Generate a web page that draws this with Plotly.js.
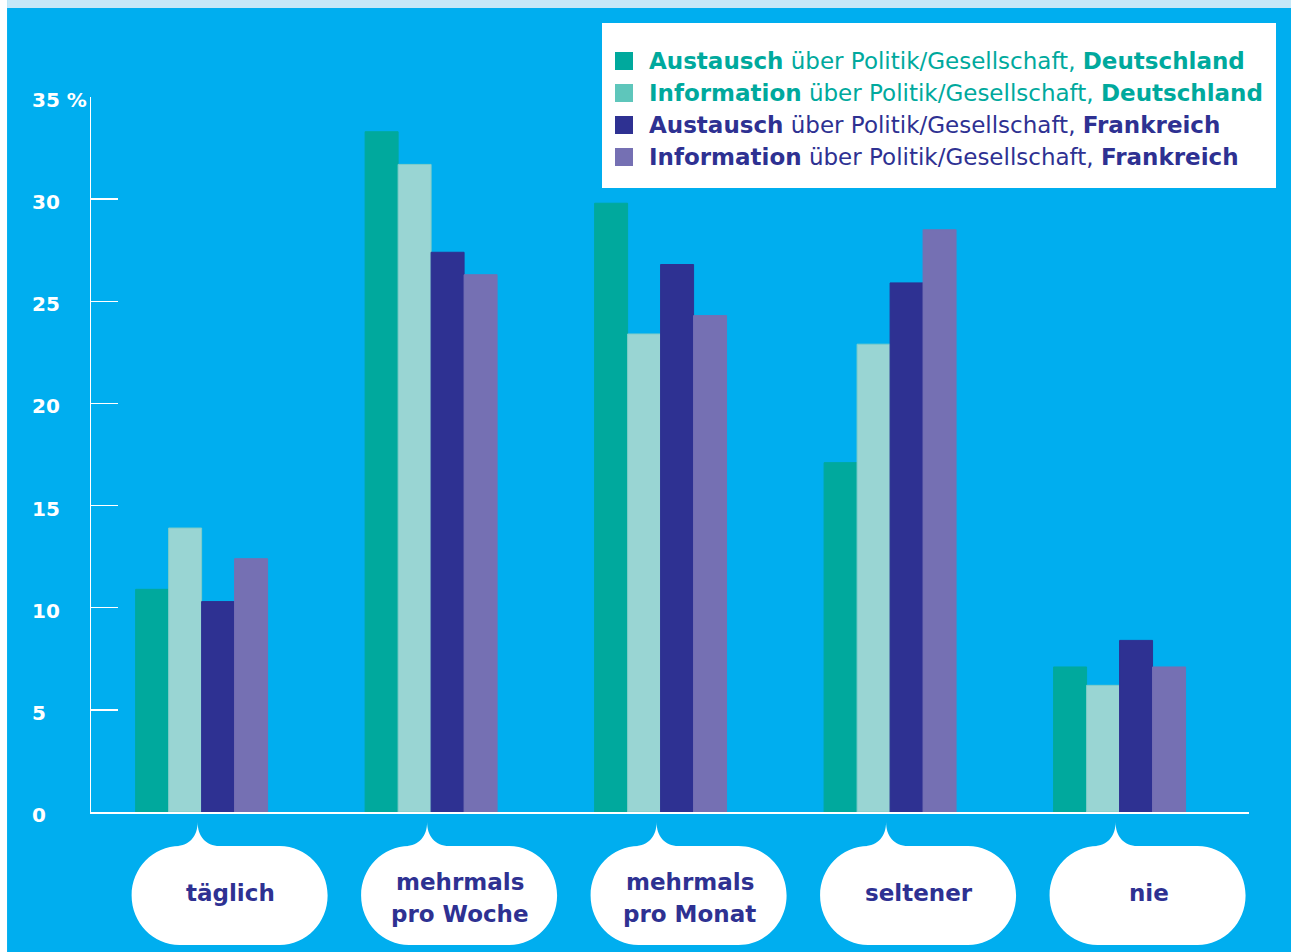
<!DOCTYPE html>
<html>
<head>
<meta charset="utf-8">
<script src="https://cdn.plot.ly/plotly-3.0.1.min.js"></script>
<style>
  html, body { margin: 0; padding: 0; background: #ffffff; }
  #chart { width: 1291px; height: 952px; }
</style>
</head>
<body>
<div id="chart"></div>
<script>
// ---- data ----
const categories = ["täglich", "mehrmals pro Woche", "mehrmals pro Monat", "seltener", "nie"];
const categoryLabelLines = [["täglich"], ["mehrmals", "pro Woche"], ["mehrmals", "pro Monat"], ["seltener"], ["nie"]];
const austauschDeutschland = [10.9, 33.3, 29.8, 17.1, 7.1];
const informationDeutschland = [13.9, 31.7, 23.4, 22.9, 6.2];
const austauschFrankreich = [10.3, 27.4, 26.8, 25.9, 8.4];
const informationFrankreich = [12.4, 26.3, 24.3, 28.5, 7.1];
const tickValues = [0, 5, 10, 15, 20, 25, 30, 35];
const tickLabels = ["0", "5", "10", "15", "20", "25", "30", "35 %"];
const seriesNames = [
  "Austausch über Politik/Gesellschaft, Deutschland",
  "Information über Politik/Gesellschaft, Deutschland",
  "Austausch über Politik/Gesellschaft, Frankreich",
  "Information über Politik/Gesellschaft, Frankreich"
];
const legendTexts = [
  "<b>Austausch</b> über Politik/Gesellschaft, <b>Deutschland</b>",
  "<b>Information</b> über Politik/Gesellschaft, <b>Deutschland</b>",
  "<b>Austausch</b> über Politik/Gesellschaft, <b>Frankreich</b>",
  "<b>Information</b> über Politik/Gesellschaft, <b>Frankreich</b>"
];

// ---- styles ----
const FONT = '"DejaVu Sans", Inter, sans-serif';
const BG = '#00aeef';
const colors = ['#00a99d', '#99d5d3', '#2e3192', '#7570b3'];
const lineColors = ['#00a99d', '#7fcdc8', '#2e3192', '#7570b3'];
const swatchColors = ['#00a99d', '#5ec6bb', '#2e3192', '#7570b3'];
const textColors = ['#00a99d', '#00a99d', '#2e3192', '#2e3192'];
const xRange = [-0.482, 4.564];

const values = [austauschDeutschland, informationDeutschland, austauschFrankreich, informationFrankreich];
const traces = values.map((v, i) => ({
  type: 'bar',
  x: categories,
  y: v,
  name: seriesNames[i],
  marker: { color: colors[i], line: { color: lineColors[i], width: 1 } },
  hoverinfo: 'x+y'
}));

function catToPaper(i) { return (i - xRange[0]) / (xRange[1] - xRange[0]); }

// speech-bubble path (pixel offsets relative to category centre on the x axis line)
function bubblePath() {
  const L = -70, R = 126, T = -34, B = -133, rx = 48, ry = 49.5, k = 0.5523;
  const mid = T - ry;
  const p = [];
  p.push(`M${L + rx - 4},${T}`);
  p.push(`C-12,${T} -4,-24 -4,-10`);
  p.push(`C-4,-24 4,${T} 18,${T}`);
  p.push(`L${R - rx},${T}`);
  p.push(`C${R - rx + k * rx},${T} ${R},${mid + k * ry} ${R},${mid}`);
  p.push(`C${R},${mid - k * ry} ${R - rx + k * rx},${B} ${R - rx},${B}`);
  p.push(`L${L + rx},${B}`);
  p.push(`C${L + rx - k * rx},${B} ${L},${mid - k * ry} ${L},${mid}`);
  p.push(`C${L},${mid + k * ry} ${L + rx - k * rx},${T} ${L + rx},${T}`);
  p.push('Z');
  return p.join(' ');
}

const shapes = [
  { type: 'rect', xref: 'paper', yref: 'paper', x0: -0.0786, x1: -0.0725, y0: -0.2, y1: 1.2,
    fillcolor: '#ffffff', line: { width: 0 }, layer: 'below' },
  { type: 'rect', xref: 'paper', yref: 'paper', x0: -0.0725, x1: 1.04, y0: 1.1245, y1: 1.2,
    fillcolor: '#c5e8f8', line: { width: 0 }, layer: 'below' },
  // legend box
  { type: 'rect', xref: 'paper', yref: 'paper', x0: 0.44128, x1: 1.02332, y0: 0.87273, y1: 1.1035,
    fillcolor: '#ffffff', line: { width: 0 }, layer: 'above' }
];
categories.forEach((c, i) => {
  shapes.push({
    type: 'path', xref: 'paper', yref: 'paper',
    xsizemode: 'pixel', ysizemode: 'pixel',
    xanchor: catToPaper(i), yanchor: 0,
    path: bubblePath(),
    fillcolor: '#ffffff', line: { width: 0 }, layer: 'above'
  });
});

const legendRowY = [1.05035, 1.00559, 0.96084, 0.91608];
const annotations = [];
seriesNames.forEach((n, i) => {
  shapes.push({
    type: 'rect', xref: 'paper', yref: 'paper',
    xsizemode: 'pixel', ysizemode: 'pixel',
    xanchor: 0.4525, yanchor: legendRowY[i],
    x0: 0, x1: 18, y0: -9, y1: 9,
    fillcolor: swatchColors[i], line: { width: 0 }, layer: 'above'
  });
  annotations.push({
    xref: 'paper', yref: 'paper', x: 0.48014, y: legendRowY[i],
    xanchor: 'left', yanchor: 'middle', showarrow: false,
    text: legendTexts[i],
    font: { family: FONT, size: 23, color: textColors[i] }
  });
});

tickValues.forEach((t, i) => {
  annotations.push({
    xref: 'paper', yref: 'y', x: -0.0527, y: t, xanchor: 'left', yanchor: 'middle',
    yshift: -3, showarrow: false, text: '<b>' + tickLabels[i] + '</b>',
    font: { family: FONT, size: 20, color: '#ffffff' }
  });
});
categories.forEach((c, i) => {
  const lines = categoryLabelLines[i];
  const shifts = lines.length === 1 ? [-81] : [-70, -102];
  lines.forEach((ln, j) => {
    annotations.push({
      xref: 'x', yref: 'y', x: c, y: 0, xanchor: 'center', yanchor: 'middle',
      xshift: 29, yshift: shifts[j], showarrow: false, text: '<b>' + ln + '</b>',
      font: { family: FONT, size: 23, color: '#2e3192' }
    });
  });
});

const layout = {
  width: 1291, height: 952,
  margin: { l: 91, r: 42, t: 97, b: 140, pad: 0 },
  paper_bgcolor: BG, plot_bgcolor: BG,
  font: { family: FONT, size: 21, color: '#2e3192' },
  barmode: 'group', bargap: 0.425, bargroupgap: 0,
  showlegend: false,
  xaxis: {
    type: 'category', categoryorder: 'array', categoryarray: categories,
    range: xRange, showticklabels: false, ticks: '',
    showline: true, linecolor: '#ffffff', linewidth: 1.5,
    showgrid: false, zeroline: false, fixedrange: true
  },
  yaxis: {
    range: [0, 35], tickvals: tickValues, showticklabels: false,
    ticks: 'inside', ticklen: 27, tickwidth: 1.5, tickcolor: '#ffffff',
    showline: true, linecolor: '#ffffff', linewidth: 1.5,
    showgrid: false, zeroline: false, fixedrange: true
  },
  shapes: shapes,
  annotations: annotations
};

Plotly.newPlot('chart', traces, layout, { displayModeBar: false, staticPlot: true });
</script>
</body>
</html>
